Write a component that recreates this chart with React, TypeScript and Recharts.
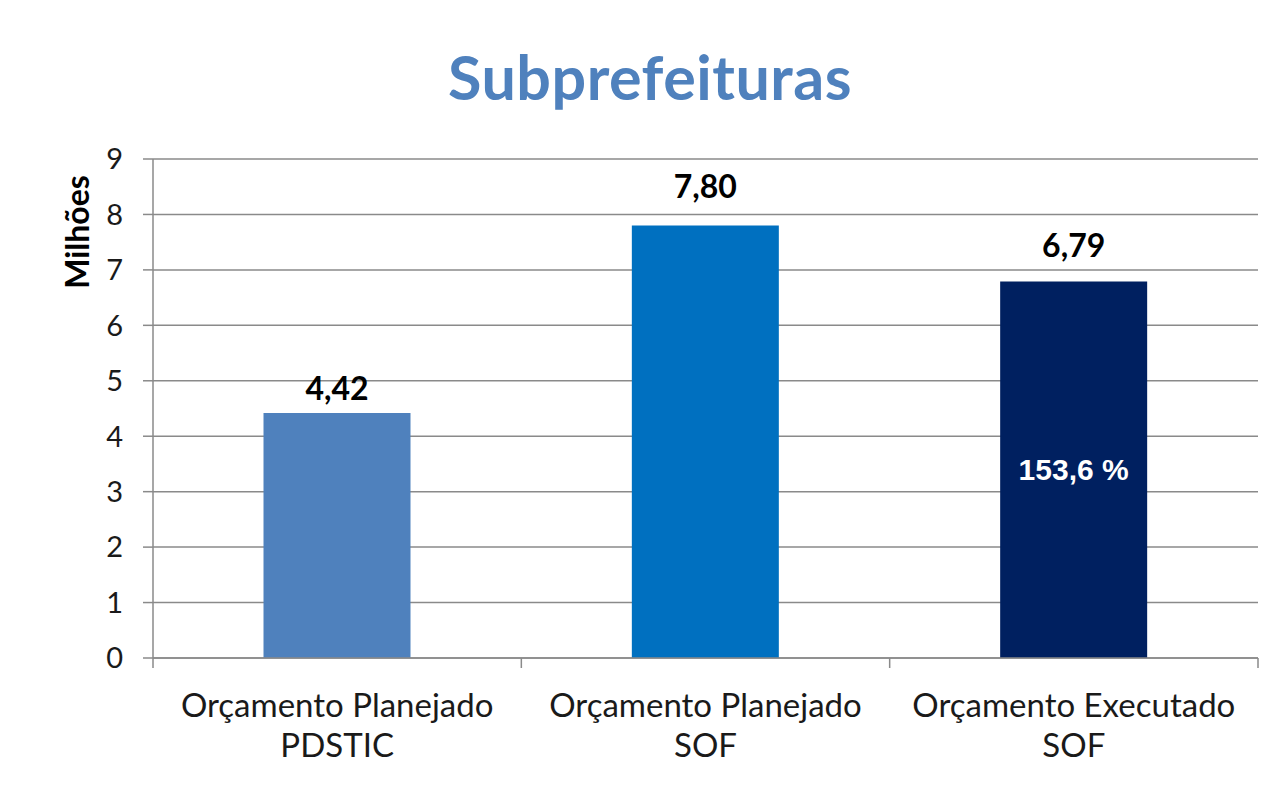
import React from 'react';
import { BarChart, Bar, XAxis, YAxis, CartesianGrid, LabelList, Cell } from 'recharts';

const categories = ['Orçamento Planejado\nPDSTIC', 'Orçamento Planejado\nSOF', 'Orçamento Executado\nSOF'];
const values = [4.42, 7.8, 6.79];
const valueLabels = ['4,42', '7,80', '6,79'];
const innerLabels = ['', '', '153,6 %'];
const yTicks = [0, 1, 2, 3, 4, 5, 6, 7, 8, 9];
const barColors = ['#4f81bd', '#0070c0', '#002060'];
const labelGaps = [13, 28, 25];

const data = categories.map((c, i) => ({ name: c, value: values[i], label: valueLabels[i], inner: innerLabels[i] }));

const GRID = '#8a8a8a';

const CatTick = (props: any) => {
  const { x, y, payload, width, visibleTicksCount, index } = props;
  const lines = String(payload.value).split('\n');
  const band = Number(width) / Number(visibleTicksCount || 1);
  const left = Number(x) - band / 2;
  const right = Number(x) + band / 2;
  const isLast = index === (visibleTicksCount || 1) - 1;
  return (
    <g>
      <line x1={left} x2={left} y1={y} y2={Number(y) + 10} stroke={GRID} strokeWidth={1.5} />
      {isLast && <line x1={right} x2={right} y1={y} y2={Number(y) + 10} stroke={GRID} strokeWidth={1.5} />}
      <text x={x} y={y} textAnchor="middle" fontFamily="Lato" fontSize={33} fill="#1a1a1a">
        {lines.map((l: string, i: number) => (
          <tspan key={i} x={x} dy={i === 0 ? 59 : 40}>{l}</tspan>
        ))}
      </text>
    </g>
  );
};

const TopLabel = (props: any) => {
  const { x, y, width, value, index } = props;
  return (
    <text x={Number(x) + Number(width) / 2} y={Number(y) - labelGaps[index ?? 0]} textAnchor="middle"
      fontFamily="Lato" fontWeight={700} fontSize={32} fill="#000">{value}</text>
  );
};

const InnerLabel = (props: any) => {
  const { x, y, width, height, value } = props;
  if (!value) return null;
  return (
    <text x={Number(x) + Number(width) / 2} y={Number(y) + Number(height) / 2} textAnchor="middle" dominantBaseline="central"
      fontFamily="Liberation Sans" fontWeight={700} fontSize={30} fill="#ffffff">{value}</text>
  );
};

const AxisTitle = (props: any) => {
  const vb = props.viewBox || {};
  const cx = 76;
  const cy = (vb.y ?? 159) + 73;
  return (
    <text x={cx} y={cy} transform={`rotate(-90, ${cx}, ${cy})`} textAnchor="middle" dominantBaseline="central"
      fontFamily="Lato" fontWeight={700} fontSize={32} fill="#000">Milhões</text>
  );
};

export default function App() {
  return (
    <div style={{ position: 'absolute', left: 0, top: 0, width: 1285, height: 789, background: '#fff' }}>
      <div style={{ position: 'absolute', left: 0, top: 0, width: 1300, textAlign: 'center', fontFamily: 'Lato', fontWeight: 700, fontSize: 61, color: '#4f81bd', lineHeight: '61px', marginTop: 46, letterSpacing: 0.5 }}>
        Subprefeituras
      </div>
      <div style={{ position: 'absolute', left: 0, top: 0 }}>
        <BarChart width={1285} height={789} data={data} margin={{ top: 159, right: 27, bottom: 31, left: 63 }} barCategoryGap="30%">
          <XAxis xAxisId="cat" dataKey="name" type="category" height={100} interval={0} tickSize={0} tickMargin={0}
            tickLine={false} axisLine={{ stroke: GRID, strokeWidth: 1.5 }} tick={<CatTick />} />
          <YAxis domain={[0, 9]} ticks={yTicks} interval={0} width={90} tickSize={10} tickMargin={20}
            axisLine={{ stroke: GRID, strokeWidth: 1.5 }} tickLine={{ stroke: GRID, strokeWidth: 1.5 }}
            tick={{ fontFamily: 'Lato', fontSize: 29, fill: '#1a1a1a' }} label={<AxisTitle />} />
          <CartesianGrid xAxisId="cat" vertical={false} stroke={GRID} strokeWidth={1.5} />
          <Bar xAxisId="cat" dataKey="value" isAnimationActive={false}>
            {data.map((d, i) => (
              <Cell key={i} fill={barColors[i]} />
            ))}
            <LabelList dataKey="label" content={<TopLabel />} />
            <LabelList dataKey="inner" content={<InnerLabel />} />
          </Bar>
        </BarChart>
      </div>
    </div>
  );
}
